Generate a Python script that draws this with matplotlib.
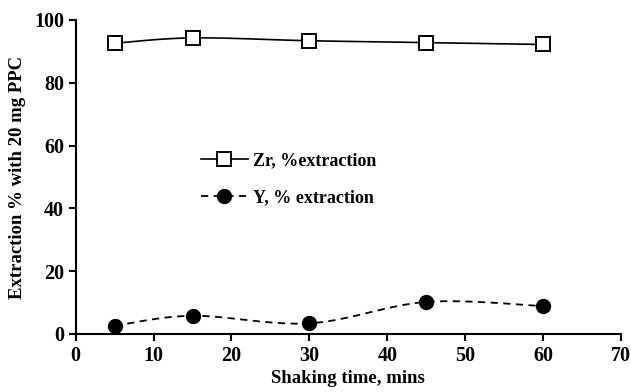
import numpy as np
import matplotlib.pyplot as plt

# data
time = [5, 15, 30, 45, 60]
zr_ext = [92.6, 94.3, 93.4, 92.8, 92.2]
y_ext = [2.6, 5.8, 3.4, 10.2, 8.9]


def smooth(x, y, sx=70.0, sy=100.0, n=30):
    # Excel-style smoothed line: Catmull-Rom through the points (scaled space)
    p = np.column_stack([np.asarray(x) / sx, np.asarray(y) / sy])
    p = np.vstack([p[0], p, p[-1]])
    out = []
    t = np.linspace(0, 1, n)[:, None]
    for i in range(1, len(p) - 2):
        p0, p1, p2, p3 = p[i - 1], p[i], p[i + 1], p[i + 2]
        c1 = p1 + (p2 - p0) / 6
        c2 = p2 - (p3 - p1) / 6
        seg = ((1 - t) ** 3) * p1 + 3 * ((1 - t) ** 2) * t * c1 + 3 * (1 - t) * t ** 2 * c2 + t ** 3 * p2
        out.append(seg)
    out = np.vstack(out)
    return out[:, 0] * sx, out[:, 1] * sy


plt.rcParams['font.family'] = 'Liberation Serif'
plt.rcParams['font.weight'] = 'bold'

fig = plt.figure(figsize=(6.31, 3.92), dpi=100)
ax = fig.add_axes([0.120, 0.148, 0.864, 0.801])

sx, sy = smooth(time, zr_ext)
ax.plot(sx, sy, color='black', lw=1.2)
ax.plot(time, zr_ext, ls='none', marker='s', ms=9.5, mfc='white', mec='black', mew=1.4)

sx, sy = smooth(time, y_ext)
ax.plot(sx, sy, color='black', lw=1.3, ls=(0, (4, 3)))
ax.plot(time, y_ext, ls='none', marker='o', ms=10, mfc='black', mec='black')

# legend handles
h1, = ax.plot([], [], color='black', lw=1.2, marker='s', ms=9.5, mfc='white', mec='black', mew=1.4)
h2, = ax.plot([], [], color='black', lw=1.3, ls=(0, (4, 3)), marker='o', ms=10, mfc='black')
ax.legend([h1, h2], ['Zr, %extraction', 'Y, % extraction'], frameon=False,
          loc='upper left', bbox_to_anchor=(0.2, 0.63), handlelength=2.6,
          handletextpad=0.3, labelspacing=1.1, fontsize=13)

ax.set_xlim(0, 70)
ax.set_ylim(0, 100)
ax.set_xticks(range(0, 71, 10))
ax.set_yticks(range(0, 101, 20))
ax.spines['top'].set_visible(False)
ax.spines['right'].set_visible(False)
for s in ['left', 'bottom']:
    ax.spines[s].set_linewidth(1.5)
ax.tick_params(direction='out', length=5, width=1.5, labelsize=14.5)
for lab in ax.get_xticklabels() + ax.get_yticklabels():
    lab.set_fontweight('bold')
ax.set_xlabel('Shaking time, mins', fontsize=13.5, fontweight='bold', labelpad=3)
ax.set_ylabel('Extraction % with 20 mg PPC', fontsize=13.5, fontweight='bold', labelpad=6)

fig.savefig('out.png', dpi=100)
